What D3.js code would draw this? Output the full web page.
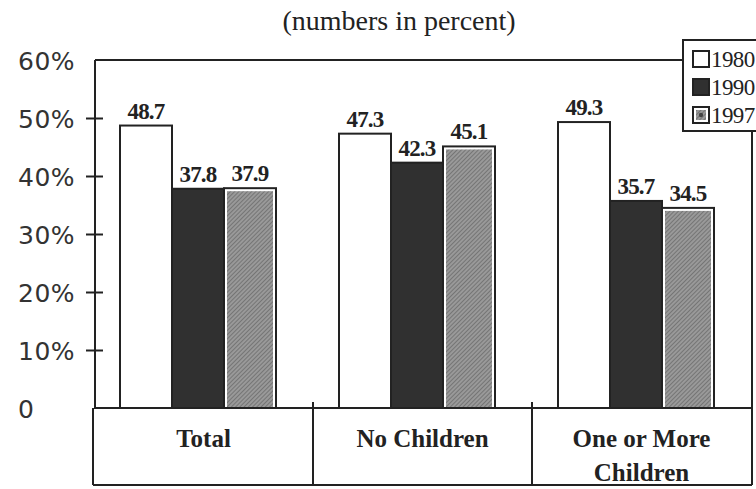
<!DOCTYPE html>
<html>
<head>
<meta charset="utf-8">
<script src="https://cdn.jsdelivr.net/npm/d3@7"></script>
<style>
  html, body { margin: 0; padding: 0; background: #ffffff; }
  svg { display: block; }
</style>
</head>
<body>
<svg id="chart" width="756" height="489"></svg>
<script>
// Share of households, by presence of children (percent)
const categories = ["Total", "No Children", "One or More Children"];
const categoryLines = [["Total"], ["No Children"], ["One or More", "Children"]];
const years = ["1980", "1990", "1997"];
const values1980 = [48.7, 47.3, 49.3];
const values1990 = [37.8, 42.3, 35.7];
const values1997 = [37.9, 45.1, 34.5];
const yTicks = [0, 10, 20, 30, 40, 50, 60];
const subtitle = "(numbers in percent)";

const seriesByYear = { "1980": values1980, "1990": values1990, "1997": values1997 };

const svg = d3.select("#chart");
const ink = "#222";
const serif = "'Liberation Serif', 'Times New Roman', serif";
const sans = "'DejaVu Sans', sans-serif";

// Frame geometry
const frameLeft = 94, frameRight = 751, frameTop = 60, base = 408, tableBottom = 485;

const x0 = d3.scaleBand().domain(categories).range([frameLeft, frameRight]).paddingInner(0).paddingOuter(0);
const groupOffset = 26;
const x1 = d3.scaleBand().domain(years).range([0, 156]).padding(0);
const y = d3.scaleLinear().domain([0, 60]).range([base, frameTop]);

// Texture for the 1997 bars
const defs = svg.append("defs");
const pat = defs.append("pattern")
  .attr("id", "grain")
  .attr("patternUnits", "userSpaceOnUse")
  .attr("width", 3).attr("height", 3)
  .attr("patternTransform", "rotate(45)");
pat.append("rect").attr("width", 3).attr("height", 3).attr("fill", "#999999");
pat.append("line").attr("x1", 0).attr("y1", 0).attr("x2", 0).attr("y2", 3)
  .attr("stroke", "#5c5c5c").attr("stroke-width", 1.2);

const fills = { "1980": "#ffffff", "1990": "#303030", "1997": "url(#grain)" };

// Subtitle
svg.append("text")
  .attr("x", 399).attr("y", 30)
  .attr("text-anchor", "middle")
  .attr("font-family", serif).attr("font-size", 28)
  .attr("fill", ink)
  .text(subtitle);

// Y axis
const yAxis = d3.axisLeft(y).tickValues(yTicks).tickSizeInner(9).tickSizeOuter(0)
  .tickFormat(d => d === 0 ? "0" : d + "%");
const gy = svg.append("g").attr("transform", `translate(${frameLeft + 1},0)`).call(yAxis);
gy.select(".domain").remove();
gy.selectAll(".tick line")
  .attr("x1", 8).attr("x2", -9)
  .attr("stroke", ink).attr("stroke-width", 2)
  .attr("display", d => (d === 0 || d === 60) ? "none" : null);
gy.selectAll(".tick text")
  .attr("x", -77).attr("dy", "0.36em")
  .attr("text-anchor", "start")
  .attr("font-family", sans).attr("font-size", 25)
  .attr("letter-spacing", "0.5")
  .attr("fill", "#333");

// Bars
const groups = svg.append("g").selectAll("g")
  .data(categories)
  .join("g")
  .attr("transform", d => `translate(${x0(d) + groupOffset},0)`);

groups.each(function (cat, i) {
  const g = d3.select(this);
  years.forEach(yr => {
    const v = seriesByYear[yr][i];
    const bx = x1(yr), bw = x1.bandwidth();
    g.append("rect")
      .attr("x", bx).attr("y", y(v))
      .attr("width", bw).attr("height", y(0) - y(v))
      .attr("fill", yr === "1997" ? "#ffffff" : fills[yr])
      .attr("stroke", ink).attr("stroke-width", 2);
    if (yr === "1997") {
      g.append("rect")
        .attr("x", bx + 3).attr("y", y(v) + 3)
        .attr("width", bw - 6).attr("height", y(0) - y(v) - 3)
        .attr("fill", fills[yr]);
    }
    g.append("text")
      .attr("x", bx + bw / 2).attr("y", y(v) - 7)
      .attr("text-anchor", "middle")
      .attr("font-family", serif).attr("font-weight", "bold")
      .attr("font-size", 23).attr("letter-spacing", "-0.8")
      .attr("fill", ink)
      .text(v.toFixed(1));
  });
});

// Plot frame and category table
const frame = svg.append("g").attr("fill", "none").attr("stroke", ink).attr("stroke-width", 2);
frame.append("line").attr("x1", frameLeft + 1).attr("y1", frameTop).attr("x2", frameLeft + 1).attr("y2", base);
frame.append("line").attr("x1", frameLeft + 1).attr("y1", frameTop).attr("x2", 683).attr("y2", frameTop);
frame.append("line").attr("x1", frameRight + 1).attr("y1", 131).attr("x2", frameRight + 1).attr("y2", tableBottom);
frame.append("line").attr("x1", frameLeft).attr("y1", base).attr("x2", frameRight + 1).attr("y2", base);
frame.append("line").attr("x1", frameLeft - 1).attr("y1", base).attr("x2", frameLeft - 1).attr("y2", tableBottom);
frame.append("line").attr("x1", frameLeft - 1).attr("y1", tableBottom).attr("x2", frameRight + 1).attr("y2", tableBottom);
categories.slice(1).forEach(c => {
  frame.append("line")
    .attr("x1", x0(c)).attr("y1", base - 6)
    .attr("x2", x0(c)).attr("y2", tableBottom);
});

// Category labels
const catLabels = svg.append("g");
categories.forEach((c, i) => {
  const t = catLabels.append("text")
    .attr("x", x0(c) + x0.bandwidth() / 2)
    .attr("y", 447)
    .attr("text-anchor", "middle")
    .attr("font-family", serif).attr("font-weight", "bold")
    .attr("font-size", 25)
    .attr("fill", ink);
  categoryLines[i].forEach((line, k) => {
    t.append("tspan")
      .attr("x", x0(c) + x0.bandwidth() / 2)
      .attr("dy", k === 0 ? 0 : 34)
      .text(line);
  });
});

// Legend
const lg = svg.append("g");
lg.append("rect")
  .attr("x", 683).attr("y", 40).attr("width", 120).attr("height", 91)
  .attr("fill", "#ffffff").attr("stroke", ink).attr("stroke-width", 2);
const legendRows = [59, 87, 115];
years.forEach((yr, i) => {
  const cy = legendRows[i];
  if (yr === "1997") {
    lg.append("rect")
      .attr("x", 693).attr("y", cy - 8).attr("width", 16).attr("height", 16)
      .attr("fill", "#ffffff").attr("stroke", ink).attr("stroke-width", 2);
    lg.append("rect")
      .attr("x", 696).attr("y", cy - 5).attr("width", 10).attr("height", 10)
      .attr("fill", fills[yr]);
    lg.append("circle").attr("cx", 701).attr("cy", cy).attr("r", 2.2).attr("fill", "#444");
  } else {
    lg.append("rect")
      .attr("x", 693).attr("y", cy - 8).attr("width", 16).attr("height", 16)
      .attr("fill", fills[yr]).attr("stroke", ink).attr("stroke-width", 2);
  }
  lg.append("text")
    .attr("x", 711).attr("y", cy)
    .attr("dy", "0.35em")
    .attr("font-family", serif).attr("font-size", 23)
    .attr("letter-spacing", "-0.6")
    .attr("fill", ink)
    .text(yr);
});
</script>
</body>
</html>
